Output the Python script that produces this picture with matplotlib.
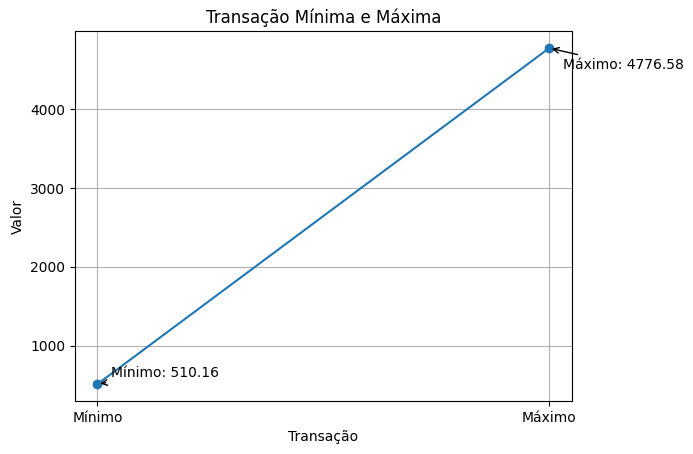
import matplotlib
matplotlib.use('Agg')
import matplotlib.pyplot as plt

# transacao minima e maxima
labels = ['Mínimo', 'Máximo']
valores = [510.16, 4776.58]
textos = ['Mínimo: 510.16', 'Máximo: 4776.58']
offsets = [(10, 5), (10, -15)]

fig, ax = plt.subplots(figsize=(6.93, 4.54), dpi=100)
fig.subplots_adjust(left=0.108, right=0.825, top=0.931, bottom=0.117)

ax.plot(labels, valores, marker='o')

for i in range(len(labels)):
    ax.annotate(textos[i], xy=(labels[i], valores[i]), xytext=offsets[i],
                textcoords='offset points',
                arrowprops=dict(arrowstyle='->', color='black'))

ax.set_title('Transação Mínima e Máxima')
ax.set_xlabel('Transação')
ax.set_ylabel('Valor')
ax.grid(True)

fig.savefig('out.png', dpi=100)
